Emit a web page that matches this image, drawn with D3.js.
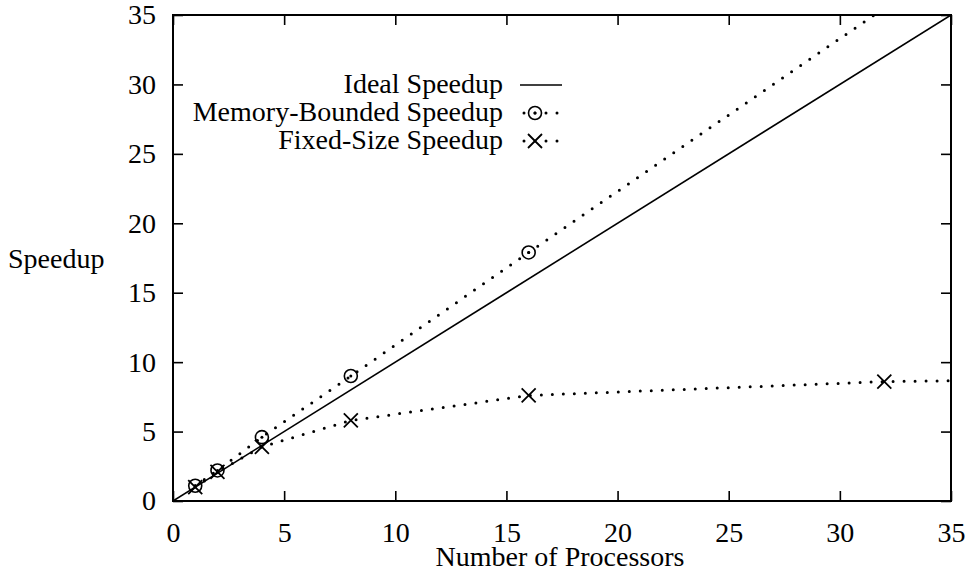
<!DOCTYPE html>
<html lang="en">
<head>
    <meta charset="UTF-8">
    <title>Speedup</title>
    <style>
        body { margin: 0; background: #fff; }
        text { font-family: "Liberation Serif", serif; font-size: 28px; fill: #000; }
    </style>
</head>
<body>
    <script src="https://d3js.org/d3.v7.min.js"></script>
    <script>
        // processors (x) and speedups
        const procs = [1, 2, 4, 8, 16, 32];
        const memBounded = [1.1, 2.2, 4.6, 9.0, 17.9, 35.5];
        const fixedProcs = [1, 2, 4, 8, 16, 32, 64];
        const fixedSize = [1.0, 2.1, 3.9, 5.8, 7.6, 8.6, 9.2];
        const idealProcs = [0, 35];
        const idealSpeedup = [0, 35];
        const xTicks = [0, 5, 10, 15, 20, 25, 30, 35];
        const yTicks = [0, 5, 10, 15, 20, 25, 30, 35];
        const legendLabels = ['Ideal Speedup', 'Memory-Bounded Speedup', 'Fixed-Size Speedup'];

        const width = 965, height = 571;
        const margin = { top: 15, right: 14, bottom: 70, left: 173 };
        const w = width - margin.left - margin.right;
        const h = height - margin.top - margin.bottom;

        const svg = d3.select('body').append('svg')
            .attr('width', width)
            .attr('height', height);

        const x = d3.scaleLinear().domain([0, 35]).range([0, w]);
        const y = d3.scaleLinear().domain([0, 35]).range([h, 0]);

        const g = svg.append('g').attr('transform', `translate(${margin.left}, ${margin.top})`);

        g.append('clipPath').attr('id', 'plot')
            .append('rect').attr('width', w).attr('height', h);

        // axes, ticks point inward on all four sides
        const styleAxis = sel => {
            sel.select('.domain').remove();
            sel.selectAll('.tick line').attr('stroke', '#000').attr('stroke-width', 1.6);
            sel.selectAll('.tick text').style('font-size', '28px').attr('fill', '#000');
        };
        g.append('g').attr('transform', `translate(0, ${h})`)
            .call(d3.axisBottom(x).tickValues(xTicks).tickSize(-10).tickPadding(21))
            .call(styleAxis);
        g.append('g')
            .call(d3.axisLeft(y).tickValues(yTicks).tickSize(-10).tickPadding(17))
            .call(styleAxis);
        g.append('g')
            .call(d3.axisTop(x).tickValues(xTicks).tickSize(-10).tickFormat(''))
            .call(styleAxis);
        g.append('g').attr('transform', `translate(${w}, 0)`)
            .call(d3.axisRight(y).tickValues(yTicks).tickSize(-10).tickFormat(''))
            .call(styleAxis);

        g.append('rect')
            .attr('width', w).attr('height', h)
            .attr('fill', 'none').attr('stroke', '#000').attr('stroke-width', 2);

        // axis titles
        svg.append('text')
            .attr('x', margin.left + w / 2 - 2)
            .attr('y', 566)
            .attr('text-anchor', 'middle')
            .text('Number of Processors');
        svg.append('text')
            .attr('x', 8)
            .attr('y', 268)
            .text('Speedup');

        const line = d3.line().x(d => x(d[0])).y(d => y(d[1]));
        const plot = g.append('g').attr('clip-path', 'url(#plot)');

        const ideal = d3.zip(idealProcs, idealSpeedup);
        const mem = d3.zip(procs, memBounded);
        const fixed = d3.zip(fixedProcs, fixedSize);

        plot.append('path').datum(ideal)
            .attr('d', line)
            .attr('fill', 'none').attr('stroke', '#000').attr('stroke-width', 1.6);

        const dotted = sel => sel
            .attr('fill', 'none').attr('stroke', '#000')
            .attr('stroke-width', 3).attr('stroke-linecap', 'round')
            .attr('stroke-dasharray', '0 11');

        plot.append('path').datum(mem).attr('d', line).call(dotted);
        plot.append('path').datum(fixed).attr('d', line).call(dotted);

        const drawCircle = (sel, cx, cy) => {
            sel.append('circle').attr('cx', cx).attr('cy', cy).attr('r', 6.5)
                .attr('fill', 'none').attr('stroke', '#000').attr('stroke-width', 1.6);
            sel.append('circle').attr('cx', cx).attr('cy', cy).attr('r', 1.5).attr('fill', '#000');
        };
        const drawCross = (sel, cx, cy) => {
            const s = 7;
            sel.append('path')
                .attr('d', `M${cx - s},${cy - s}L${cx + s},${cy + s}M${cx - s},${cy + s}L${cx + s},${cy - s}`)
                .attr('stroke', '#000').attr('stroke-width', 1.8);
        };

        mem.forEach(d => drawCircle(plot, x(d[0]), y(d[1])));
        fixed.forEach(d => drawCross(plot, x(d[0]), y(d[1])));

        // legend
        const legend = svg.append('g');
        const legendX = 503, sampleX0 = 520, sampleX1 = 565;
        legendLabels.forEach((label, i) => {
            legend.append('text')
                .attr('x', legendX)
                .attr('y', 93 + i * 28)
                .attr('text-anchor', 'end')
                .text(label);
        });
        legend.append('line')
            .attr('x1', sampleX0).attr('x2', sampleX1 - 3)
            .attr('y1', 85).attr('y2', 85)
            .attr('stroke', '#000').attr('stroke-width', 1.6);
        legend.append('path').attr('d', `M${sampleX0 + 4},113L${sampleX1},113`).call(dotted);
        drawCircle(legend, 535, 113);
        legend.append('path').attr('d', `M${sampleX0 + 4},141L${sampleX1},141`).call(dotted);
        drawCross(legend, 535, 141);
    </script>
</body>
</html>
